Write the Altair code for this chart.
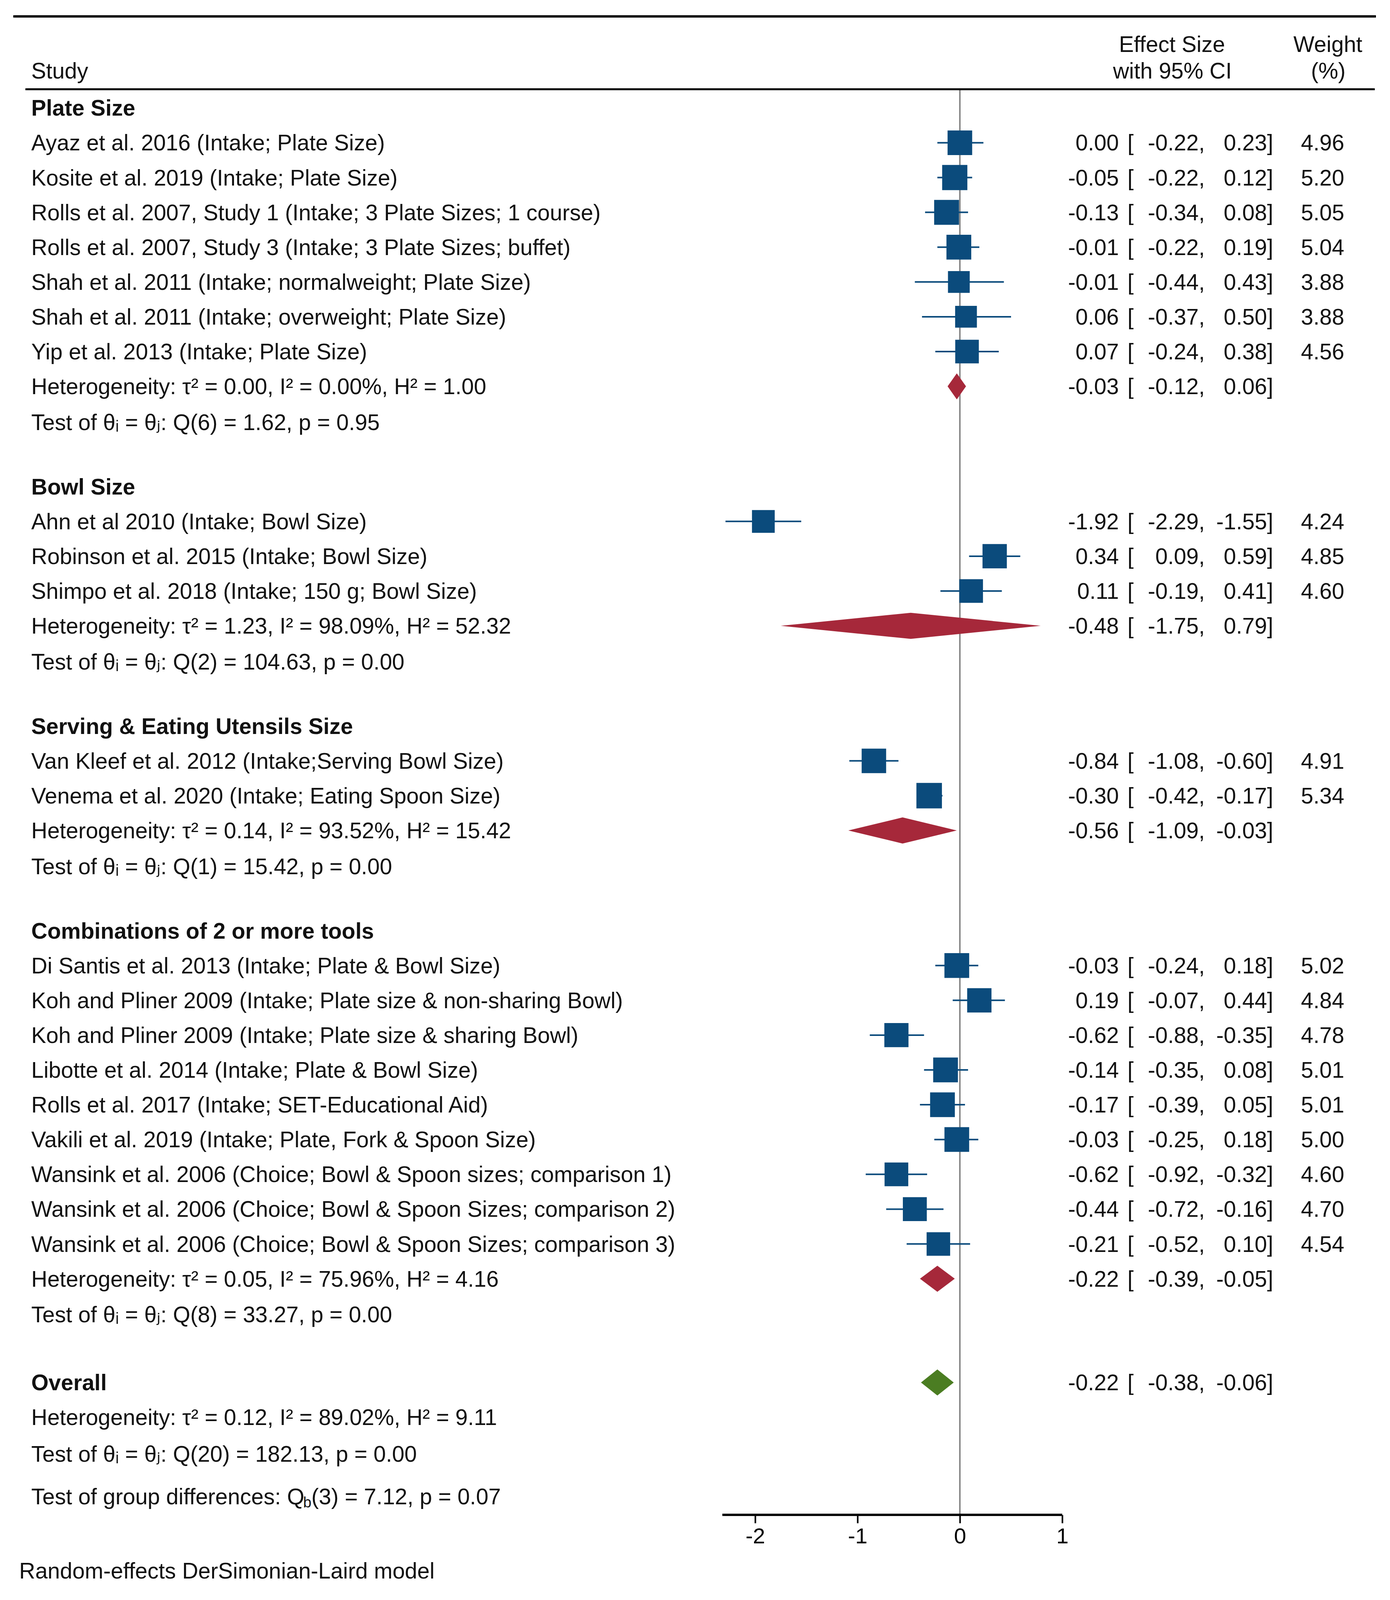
import altair as alt
import pandas as pd

# ---------------- data ----------------
group_names = ["Plate Size", "Bowl Size", "Serving & Eating Utensils Size",
               "Combinations of 2 or more tools"]

plate_studies = ["Ayaz et al. 2016 (Intake; Plate Size)",
                 "Kosite et al. 2019 (Intake; Plate Size)",
                 "Rolls et al. 2007, Study 1 (Intake; 3 Plate Sizes; 1 course)",
                 "Rolls et al. 2007, Study 3 (Intake; 3 Plate Sizes; buffet)",
                 "Shah et al. 2011 (Intake; normalweight; Plate Size)",
                 "Shah et al. 2011 (Intake; overweight; Plate Size)",
                 "Yip et al. 2013 (Intake; Plate Size)"]
plate_es = [0.00, -0.05, -0.13, -0.01, -0.01, 0.06, 0.07]
plate_lo = [-0.22, -0.22, -0.34, -0.22, -0.44, -0.37, -0.24]
plate_hi = [0.23, 0.12, 0.08, 0.19, 0.43, 0.50, 0.38]
plate_w = [4.96, 5.20, 5.05, 5.04, 3.88, 3.88, 4.56]

bowl_studies = ["Ahn et al 2010 (Intake; Bowl Size)",
                "Robinson et al. 2015 (Intake; Bowl Size)",
                "Shimpo et al. 2018 (Intake; 150 g; Bowl Size)"]
bowl_es = [-1.92, 0.34, 0.11]
bowl_lo = [-2.29, 0.09, -0.19]
bowl_hi = [-1.55, 0.59, 0.41]
bowl_w = [4.24, 4.85, 4.60]

utensil_studies = ["Van Kleef et al. 2012 (Intake;Serving Bowl Size)",
                   "Venema et al. 2020 (Intake; Eating Spoon Size)"]
utensil_es = [-0.84, -0.30]
utensil_lo = [-1.08, -0.42]
utensil_hi = [-0.60, -0.17]
utensil_w = [4.91, 5.34]

combo_studies = ["Di Santis et al. 2013 (Intake; Plate & Bowl Size)",
                 "Koh and Pliner 2009 (Intake; Plate size & non-sharing Bowl)",
                 "Koh and Pliner 2009 (Intake; Plate size & sharing Bowl)",
                 "Libotte et al. 2014 (Intake; Plate & Bowl Size)",
                 "Rolls et al. 2017 (Intake; SET-Educational Aid)",
                 "Vakili et al. 2019 (Intake; Plate, Fork & Spoon Size)",
                 "Wansink et al. 2006 (Choice; Bowl & Spoon sizes; comparison 1)",
                 "Wansink et al. 2006 (Choice; Bowl & Spoon Sizes; comparison 2)",
                 "Wansink et al. 2006 (Choice; Bowl & Spoon Sizes; comparison 3)"]
combo_es = [-0.03, 0.19, -0.62, -0.14, -0.17, -0.03, -0.62, -0.44, -0.21]
combo_lo = [-0.24, -0.07, -0.88, -0.35, -0.39, -0.25, -0.92, -0.72, -0.52]
combo_hi = [0.18, 0.44, -0.35, 0.08, 0.05, 0.18, -0.32, -0.16, 0.10]
combo_w = [5.02, 4.84, 4.78, 5.01, 5.01, 5.00, 4.60, 4.70, 4.54]

group_es = [-0.03, -0.48, -0.56, -0.22]
group_lo = [-0.12, -1.75, -1.09, -0.39]
group_hi = [0.06, 0.79, -0.03, -0.05]
group_tau2 = [0.00, 1.23, 0.14, 0.05]
group_i2 = [0.00, 98.09, 93.52, 75.96]
group_h2 = [1.00, 52.32, 15.42, 4.16]
group_q = [1.62, 104.63, 15.42, 33.27]
group_df = [6, 2, 1, 8]
group_p = [0.95, 0.00, 0.00, 0.00]

overall_es, overall_lo, overall_hi = -0.22, -0.38, -0.06
overall_tau2, overall_i2, overall_h2 = 0.12, 89.02, 9.11
overall_q, overall_df, overall_p = 182.13, 20, 0.00
between_q, between_df, between_p = 7.12, 3, 0.07

axis_ticks = [-2, -1, 0, 1]
axis_range = [-2.32, 1.0]

header_study = "Study"
header_es = ["Effect Size", "with 95% CI"]
header_w = ["Weight", "(%)"]
footer_text = "Random-effects DerSimonian-Laird model"

# ---------------- layout / style ----------------
FONT = "Liberation Sans, Arial, DejaVu Sans, sans-serif"
FS = 57
BLUE = "#0b4b7c"
RED = "#a6283a"
GREEN = "#4b7d22"
INK = "#111111"

K = 0.9            # vertical compression so the whole figure fits the captured page
PAGE = 8


def py(ref_y):     # page y in the reference -> plot-area y
    return ref_y * K - PAGE


W = 3542
H = round(py(4309))
PX_ZERO, PX_UNIT = 2457, 262
ROW0_Y, ROW_H = 307 * K, 99 * K
x_dom = [(PAGE - PX_ZERO) / PX_UNIT, (PAGE + W - PX_ZERO) / PX_UNIT]
y_dom = [(PAGE - ROW0_Y) / ROW_H, (PAGE + H - ROW0_Y) / ROW_H]
HALF_DIAMOND = 0.375


def f2(v):
    return f"{v:.2f}"


groups = [
    (plate_studies, plate_es, plate_lo, plate_hi, plate_w),
    (bowl_studies, bowl_es, bowl_lo, bowl_hi, bowl_w),
    (utensil_studies, utensil_es, utensil_lo, utensil_hi, utensil_w),
    (combo_studies, combo_es, combo_lo, combo_hi, combo_w),
]

text_rows, study_rows, diamond_pts = [], [], []


def add_text(r, label, bold=False, es=None, lo=None, hi=None, w=None):
    text_rows.append(dict(
        r=r, label=label, bold=bold,
        es_s=f2(es) if es is not None else "",
        br="[" if es is not None else "",
        lo_s=(f2(lo) + ",") if lo is not None else "",
        hi_s=(f2(hi) + "]") if hi is not None else "",
        w_s=f2(w) if w is not None else ""))


def add_diamond(did, r, es, lo, hi, kind):
    for x, a, b in [(lo, r, r), (es, r - HALF_DIAMOND, r + HALF_DIAMOND), (hi, r, r)]:
        diamond_pts.append(dict(id=did, x=x, y1=a, y2=b, kind=kind))


r = 0.0
for gi, (name, g) in enumerate(zip(group_names, groups)):
    if gi > 0:
        r += 1.85
    add_text(r, name, bold=True)
    for lab, e, lo, hi, w in zip(*g):
        r += 1
        add_text(r, lab, es=e, lo=lo, hi=hi, w=w)
        study_rows.append(dict(r=r, es=e, lo=lo, hi=hi, w=w))
    r += 1
    add_text(r, f"Heterogeneity: τ² = {group_tau2[gi]:.2f}, I² = {group_i2[gi]:.2f}%, "
                f"H² = {group_h2[gi]:.2f}",
             es=group_es[gi], lo=group_lo[gi], hi=group_hi[gi])
    add_diamond(f"g{gi}", r, group_es[gi], group_lo[gi], group_hi[gi], "group")
    r += 1.03
    add_text(r, f"Test of θᵢ = θⱼ: Q({group_df[gi]}) = {group_q[gi]:.2f}, p = {group_p[gi]:.2f}")

r += 1.95
add_text(r, "Overall", bold=True, es=overall_es, lo=overall_lo, hi=overall_hi)
add_diamond("overall", r, overall_es, overall_lo, overall_hi, "overall")
r += 1.0
add_text(r, f"Heterogeneity: τ² = {overall_tau2:.2f}, I² = {overall_i2:.2f}%, H² = {overall_h2:.2f}")
r += 1.05
add_text(r, f"Test of θᵢ = θⱼ: Q({overall_df}) = {overall_q:.2f}, p = {overall_p:.2f}")
r += 1.23
between_row = pd.DataFrame([dict(r=r,
                                 a="Test of group differences: Q",
                                 b="b",
                                 c=f"({between_df}) = {between_q:.2f}, p = {between_p:.2f}")])

texts = pd.DataFrame(text_rows)
studies = pd.DataFrame(study_rows)
diamonds = pd.DataFrame(diamond_pts)

xs = alt.Scale(domain=x_dom, zero=False, nice=False)
ys = alt.Scale(domain=y_dom, reverse=True, zero=False, nice=False)
xaxis = alt.Axis(values=axis_ticks, domain=False, grid=False, ticks=True, tickSize=21,
                 tickWidth=4, tickColor="black", labelFontSize=56, labelFont=FONT,
                 labelColor="black", labelPadding=7, title=None, labelFlush=False,
                 labelOverlap=False, labelExpr="replace(datum.label, '−', '-')")


def X(field):
    return alt.X(field, type="quantitative", scale=xs, axis=xaxis)


def Y(field):
    return alt.Y(field, type="quantitative", scale=ys, axis=None)


def txt(**kw):
    base = dict(font=FONT, fontSize=FS, color=INK, baseline="middle", dy=3)
    base.update(kw)
    return base


zero_line = alt.Chart(studies).mark_rule(color="#8a8a8a", strokeWidth=3.5).encode(
    x=alt.X(datum=0, type="quantitative", scale=xs, axis=xaxis),
    y=alt.value(py(254)), y2=alt.value(H))

ci = alt.Chart(studies).mark_rule(color=BLUE, strokeWidth=4).encode(
    x=X("lo"), x2="hi", y=Y("r"))

squares = alt.Chart(studies).mark_square(color=BLUE, opacity=1, filled=True).encode(
    x=X("es"), y=Y("r"),
    size=alt.Size("w:Q", scale=alt.Scale(domain=[0, 6], range=[0, 800 * 6]), legend=None))

dia = alt.Chart(diamonds).mark_area(opacity=1, orient="vertical").encode(
    x=X("x"), y=alt.Y("y1:Q", scale=ys, axis=None, stack=False), y2="y2",
    detail="id:N",
    color=alt.Color("kind:N", scale=alt.Scale(domain=["group", "overall"], range=[RED, GREEN]),
                    legend=None))

axis_line = alt.Chart(studies).mark_rule(color="black", strokeWidth=5).encode(
    x=alt.X(datum=axis_range[0], type="quantitative", scale=xs, axis=xaxis),
    x2=alt.datum(axis_range[1]), y=alt.value(H))

rule_top = alt.Chart(studies).mark_rule(color="black", strokeWidth=5).encode(
    x=alt.value(26), x2=alt.value(3514), y=alt.value(py(47)))
rule_head = alt.Chart(studies).mark_rule(color="black", strokeWidth=5).encode(
    x=alt.value(57), x2=alt.value(3511), y=alt.value(py(254)))

lab_norm = alt.Chart(texts).transform_filter("!datum.bold").mark_text(
    **txt(align="left")).encode(x=alt.value(72), y=Y("r"), text="label:N")
lab_bold = alt.Chart(texts).transform_filter("datum.bold").mark_text(
    **txt(align="left", fontWeight="bold")).encode(x=alt.value(72), y=Y("r"), text="label:N")
es_col = alt.Chart(texts).mark_text(**txt(align="right")).encode(
    x=alt.value(2856), y=Y("r"), text="es_s:N")
br_col = alt.Chart(texts).mark_text(**txt(align="left")).encode(
    x=alt.value(2878), y=Y("r"), text="br:N")
lo_col = alt.Chart(texts).mark_text(**txt(align="right")).encode(
    x=alt.value(3076), y=Y("r"), text="lo_s:N")
hi_col = alt.Chart(texts).mark_text(**txt(align="right")).encode(
    x=alt.value(3251), y=Y("r"), text="hi_s:N")
w_col = alt.Chart(texts).mark_text(**txt(align="right")).encode(
    x=alt.value(3433), y=Y("r"), text="w_s:N")

btw_a = alt.Chart(between_row).mark_text(**txt(align="left")).encode(
    x=alt.value(72), y=Y("r"), text="a:N")
btw_b = alt.Chart(between_row).mark_text(**txt(align="left", fontSize=38, dy=17)).encode(
    x=alt.value(768), y=Y("r"), text="b:N")
btw_c = alt.Chart(between_row).mark_text(**txt(align="left")).encode(
    x=alt.value(789), y=Y("r"), text="c:N")

hdr = pd.DataFrame([dict(a=header_study, b=header_es[0], c=header_es[1],
                         d=header_w[0], e=header_w[1], f=footer_text)])
h_study = alt.Chart(hdr).mark_text(**txt(align="left")).encode(
    x=alt.value(72), y=alt.value(py(201)), text="a:N")
h_es1 = alt.Chart(hdr).mark_text(**txt(align="center")).encode(
    x=alt.value(2992), y=alt.value(py(126)), text="b:N")
h_es2 = alt.Chart(hdr).mark_text(**txt(align="center")).encode(
    x=alt.value(2993), y=alt.value(py(201)), text="c:N")
h_w1 = alt.Chart(hdr).mark_text(**txt(align="center")).encode(
    x=alt.value(3391), y=alt.value(py(126)), text="d:N")
h_w2 = alt.Chart(hdr).mark_text(**txt(align="center")).encode(
    x=alt.value(3392), y=alt.value(py(201)), text="e:N")
footer = alt.Chart(hdr).mark_text(**txt(align="left")).encode(
    x=alt.value(41), y=alt.value(py(4468)), text="f:N")

chart = alt.layer(
    zero_line, ci, squares, dia, axis_line, rule_top, rule_head,
    lab_norm, lab_bold, es_col, br_col, lo_col, hi_col, w_col,
    btw_a, btw_b, btw_c, h_study, h_es1, h_es2, h_w1, h_w2, footer
).properties(width=W, height=H, padding=0, background="white").configure_view(strokeWidth=0)

chart.save("out.html", embed_options={"renderer": "svg", "actions": False})
